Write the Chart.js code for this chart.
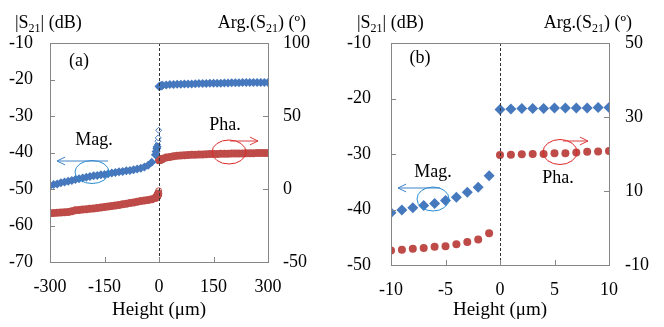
<!DOCTYPE html>
<html>
<head>
<meta charset="utf-8">
<script src="https://cdn.jsdelivr.net/npm/chart.js@4.4.1/dist/chart.umd.min.js"></script>
<style>
    body { margin: 0; background: #ffffff; }
    .wrap { display: flex; width: 664px; height: 327px; }
</style>
</head>
<body>
<div class="wrap">
    <canvas id="chart_a" width="330" height="327"></canvas>
    <canvas id="chart_b" width="334" height="327"></canvas>
</div>
<script>
// panel (a) : -300 .. 300 um
const heightMagA = [-300, -290, -280, -270, -260, -250, -240, -230, -220, -210, -200, -190, -180, -170, -160,
    -150, -140, -130, -120, -110, -100, -90, -80, -70, -60, -50, -40, -30, -20, -10, -8, -6, -5,
    0, 2, 4, 6, 8, 10, 20, 30, 40, 50, 60, 70, 80, 90, 100, 110, 120, 130, 140, 150, 160, 170, 180, 190,
    200, 210, 220, 230, 240, 250, 260, 270, 280, 290, 300];
const magA = [-49.1, -48.8, -48.6, -48.3, -48.1, -47.9, -47.7, -47.4, -47.2, -47.0, -46.8, -46.6, -46.4, -46.3, -46.1,
    -46.0, -45.8, -45.6, -45.5, -45.3, -45.2, -45.0, -44.9, -44.7, -44.5, -44.3, -44.0, -43.5, -42.7, -40.6, -39.7, -38.9, -38.4,
    -21.9, -21.8, -21.8, -21.7, -21.7, -21.6, -21.5, -21.4, -21.35, -21.3, -21.3, -21.25, -21.2, -21.2, -21.15, -21.1, -21.1, -21.1, -21.05, -21.0, -21.0, -21.0, -20.95, -20.95,
    -20.9, -20.9, -20.9, -20.85, -20.85, -20.85, -20.8, -20.8, -20.8, -20.8, -20.8];
const heightMagOpenA = [-4, -3, -2, -1];
const magOpenA = [-37.8, -36.9, -36.0, -33.9];

const heightPhaA = [-300, -290, -280, -270, -260, -250, -240, -230, -220, -210, -200, -190, -180, -170, -160,
    -150, -140, -130, -120, -110, -100, -90, -80, -70, -60, -50, -40, -30, -20, -10, -8, -6, -5, -4, -3, -2,
    0, 2, 4, 6, 8, 10, 20, 30, 40, 50, 60, 70, 80, 90, 100, 110, 120, 130, 140, 150, 160, 170, 180, 190,
    200, 210, 220, 230, 240, 250, 260, 270, 280, 290, 300];
const phaA = [-16.6, -16.5, -16.3, -16.1, -15.9, -15.7, -15.2, -14.6, -14.3, -14.1, -13.8, -13.6, -13.3, -13.0, -12.7,
    -12.4, -12.0, -11.7, -11.3, -10.9, -10.5, -10.1, -9.6, -9.2, -8.7, -8.3, -7.9, -7.5, -7.0, -6.1, -5.6, -5.1, -4.9, -4.4, -3.8, -3.1,
    19.7, 19.9, 20.0, 20.2, 20.6, 20.8, 21.5, 22.0, 22.4, 22.7, 22.9, 23.1, 23.3, 23.4, 23.5, 23.6, 23.7, 23.8, 23.9, 23.95, 24.0, 24.1, 24.15, 24.2,
    24.3, 24.3, 24.4, 24.4, 24.5, 24.5, 24.5, 24.6, 24.6, 24.6, 24.7];
const heightPhaOpenA = [-1];
const phaOpenA = [-1.2];

// panel (b) : -10 .. 10 um
const heightB = [-10, -9, -8, -7, -6, -5, -4, -3, -2, -1, 0, 1, 2, 3, 4, 5, 6, 7, 8, 9, 10];
const magB = [-40.6, -40.1, -39.7, -39.3, -38.9, -38.4, -37.8, -36.9, -36.0, -33.9,
    -22.0, -21.9, -21.8, -21.8, -21.8, -21.7, -21.7, -21.7, -21.7, -21.6, -21.6];
const phaB = [-6.1, -5.9, -5.6, -5.4, -5.1, -4.9, -4.4, -3.8, -3.1, -1.4,
    19.7, 19.8, 19.9, 20.0, 20.0, 20.2, 20.2, 20.4, 20.6, 20.7, 20.8];

const BLUE = 'rgb(70,120,190)';
const RED = 'rgb(190,75,72)';
const FONT = '"Liberation Serif", "Times New Roman", serif';

function pts(xs, ys) {
    return xs.map((x, i) => ({x: x, y: ys[i]}));
}

// text with a subscript part: parts = [[text, size, dy], ...]
function drawSub(ctx, parts, x, y, alignRight) {
    let w = 0;
    parts.forEach(p => { ctx.font = p[1] + 'px ' + FONT; w += ctx.measureText(p[0]).width; });
    let cx = alignRight ? x - w : x;
    ctx.textAlign = 'left';
    ctx.textBaseline = 'alphabetic';
    parts.forEach(p => {
        ctx.font = p[1] + 'px ' + FONT;
        ctx.fillText(p[0], cx, y + p[2]);
        cx += ctx.measureText(p[0]).width;
    });
}

function drawArrow(ctx, x1, y1, x2, y2, color) {
    const ang = Math.atan2(y2 - y1, x2 - x1);
    ctx.strokeStyle = color;
    ctx.lineWidth = 1;
    ctx.beginPath();
    ctx.moveTo(x1, y1);
    ctx.lineTo(x2, y2);
    ctx.moveTo(x2 - 9 * Math.cos(ang - 0.45), y2 - 9 * Math.sin(ang - 0.45));
    ctx.lineTo(x2, y2);
    ctx.lineTo(x2 - 9 * Math.cos(ang + 0.45), y2 - 9 * Math.sin(ang + 0.45));
    ctx.stroke();
}

// frame, inward ticks, dashed line at 0 and the notes
const framePlugin = {
    id: 'frame',
    afterDatasetsDraw(chart, args, opts) {
        const ctx = chart.ctx;
        const a = chart.chartArea;
        const sc = chart.scales;
        ctx.save();

        const x0 = Math.round(sc.x.getPixelForValue(0)) + 0.5;
        ctx.strokeStyle = '#333333';
        ctx.lineWidth = 1;
        ctx.setLineDash([3, 2]);
        ctx.beginPath();
        ctx.moveTo(x0, a.top);
        ctx.lineTo(x0, a.bottom);
        ctx.stroke();
        ctx.setLineDash([]);

        ctx.strokeStyle = '#868686';
        ctx.strokeRect(Math.round(a.left) + 0.5, Math.round(a.top) + 0.5,
            Math.round(a.width), Math.round(a.height));
        ctx.beginPath();
        sc.x.ticks.forEach(t => {
            const px = Math.round(sc.x.getPixelForValue(t.value)) + 0.5;
            ctx.moveTo(px, a.bottom);
            ctx.lineTo(px, a.bottom - 5);
        });
        sc.y.ticks.forEach(t => {
            const py = Math.round(sc.y.getPixelForValue(t.value)) + 0.5;
            ctx.moveTo(a.left, py);
            ctx.lineTo(a.left + 5, py);
        });
        sc.y1.ticks.forEach(t => {
            const py = Math.round(sc.y1.getPixelForValue(t.value)) + 0.5;
            ctx.moveTo(a.right, py);
            ctx.lineTo(a.right - 5, py);
        });
        ctx.stroke();

        const n = opts.notes;
        ctx.fillStyle = '#000000';
        drawSub(ctx, [['|S', 18, 0], ['21', 12, 4], ['| (dB)', 18, 0]], n.leftTitle[0], n.leftTitle[1], false);
        drawSub(ctx, [['Arg.(S', 18, 0], ['21', 12, 4], [') (º)', 18, 0]], n.rightTitle[0], n.rightTitle[1], true);

        ctx.font = '18px ' + FONT;
        ctx.textAlign = 'center';
        ctx.textBaseline = 'middle';
        ctx.fillText(n.panel[0], n.panel[1], n.panel[2]);
        ctx.fillText('Mag.', n.mag[0], n.mag[1]);
        ctx.fillText('Pha.', n.pha[0], n.pha[1]);

        ctx.lineWidth = 1;
        ctx.strokeStyle = 'rgb(40,140,210)';
        ctx.beginPath();
        ctx.ellipse(n.blueEll[0], n.blueEll[1], n.blueEll[2], n.blueEll[3], 0, 0, Math.PI * 2);
        ctx.stroke();
        drawArrow(ctx, n.blueArr[0], n.blueArr[2], n.blueArr[1], n.blueArr[2], 'rgb(60,130,200)');

        ctx.strokeStyle = 'rgb(220,40,40)';
        ctx.beginPath();
        ctx.ellipse(n.redEll[0], n.redEll[1], n.redEll[2], n.redEll[3], 0, 0, Math.PI * 2);
        ctx.stroke();
        drawArrow(ctx, n.redArr[0], n.redArr[2], n.redArr[1], n.redArr[2], 'rgb(220,60,60)');

        ctx.restore();
    }
};

let chart_a = document.getElementById('chart_a').getContext('2d');
new Chart(chart_a, {
    type: 'scatter',
    // The data for our dataset
    data: {
        datasets: [
            {
                data: pts(heightMagA, magA),
                yAxisID: 'y',
                pointStyle: 'rectRot',
                pointRadius: 4.5,
                pointBorderWidth: 0,
                backgroundColor: BLUE,
                borderColor: BLUE,
            },
            {
                data: pts(heightMagOpenA, magOpenA),
                yAxisID: 'y',
                pointStyle: 'rectRot',
                pointRadius: 3,
                pointBorderWidth: 1,
                backgroundColor: '#ffffff',
                borderColor: BLUE,
            },
            {
                data: pts(heightPhaA, phaA),
                yAxisID: 'y1',
                pointStyle: 'circle',
                pointRadius: 4,
                pointBorderWidth: 0,
                backgroundColor: RED,
                borderColor: RED,
            },
            {
                data: pts(heightPhaOpenA, phaOpenA),
                yAxisID: 'y1',
                pointStyle: 'circle',
                pointRadius: 3,
                pointBorderWidth: 1,
                backgroundColor: '#ffffff',
                borderColor: RED,
            }
        ],
    },
    options: {
        responsive: false,
        animation: false,
        layout: {padding: {top: 43, left: 0, right: 0, bottom: 0}},
        plugins: {
            legend: {display: false},
            tooltip: {enabled: false},
            frame: {
                notes: {
                    leftTitle: [15, 28], rightTitle: [306, 28],
                    panel: ['(a)', 79, 61],
                    mag: [94, 140], pha: [225, 125],
                    blueEll: [92, 172, 17, 11.5], blueArr: [108, 57, 161],
                    redEll: [229, 152, 17, 12], redArr: [230, 258, 141],
                }
            }
        },
        scales: {
            x: {
                type: 'linear', min: -300, max: 300,
                grid: {display: false, drawTicks: false},
                border: {display: false},
                ticks: {stepSize: 150, padding: 14, color: '#000', font: {family: FONT, size: 18}},
                title: {display: true, text: 'Height (μm)', color: '#000', padding: {top: 0, bottom: 6}, font: {family: FONT, size: 19}},
                afterFit: s => { s.height = 65; }
            },
            y: {
                position: 'left', min: -70, max: -10,
                grid: {display: false, drawTicks: false},
                border: {display: false},
                ticks: {stepSize: 10, padding: 17, color: '#000', font: {family: FONT, size: 18}},
                afterFit: s => { s.width = 50; }
            },
            y1: {
                position: 'right', min: -50, max: 100,
                grid: {display: false, drawTicks: false},
                border: {display: false},
                ticks: {stepSize: 50, padding: 15, color: '#000', font: {family: FONT, size: 18}},
                afterFit: s => { s.width = 62; }
            }
        }
    },
    plugins: [framePlugin]
});

let chart_b = document.getElementById('chart_b').getContext('2d');
new Chart(chart_b, {
    type: 'scatter',
    // The data for our dataset
    data: {
        datasets: [
            {
                data: pts(heightB, magB),
                yAxisID: 'y',
                pointStyle: 'rectRot',
                pointRadius: 5.5,
                pointBorderWidth: 0,
                backgroundColor: BLUE,
                borderColor: BLUE,
            },
            {
                data: pts(heightB, phaB),
                yAxisID: 'y1',
                pointStyle: 'circle',
                pointRadius: 4,
                pointBorderWidth: 0,
                backgroundColor: RED,
                borderColor: RED,
            }
        ],
    },
    options: {
        responsive: false,
        animation: false,
        layout: {padding: {top: 43, left: 0, right: 0, bottom: 0}},
        plugins: {
            legend: {display: false},
            tooltip: {enabled: false},
            frame: {
                notes: {
                    leftTitle: [27, 28], rightTitle: [302, 28],
                    panel: ['(b)', 90, 58],
                    mag: [103, 172], pha: [228, 178],
                    blueEll: [103, 199, 16, 12], blueArr: [110, 68, 188],
                    redEll: [230, 152, 17, 12.5], redArr: [233, 258, 141],
                }
            }
        },
        scales: {
            x: {
                type: 'linear', min: -10, max: 10,
                grid: {display: false, drawTicks: false},
                border: {display: false},
                ticks: {stepSize: 5, padding: 14, color: '#000', font: {family: FONT, size: 18}},
                title: {display: true, text: 'Height (μm)', color: '#000', padding: {top: 0, bottom: 6}, font: {family: FONT, size: 19}},
                afterFit: s => { s.height = 62; }
            },
            y: {
                position: 'left', min: -50, max: -10,
                grid: {display: false, drawTicks: false},
                border: {display: false},
                ticks: {stepSize: 10, padding: 20, color: '#000', font: {family: FONT, size: 18}},
                afterFit: s => { s.width = 61; }
            },
            y1: {
                position: 'right', min: -10, max: 50,
                grid: {display: false, drawTicks: false},
                border: {display: false},
                ticks: {stepSize: 20, padding: 16, color: '#000', font: {family: FONT, size: 18}},
                afterFit: s => { s.width = 55; }
            }
        }
    },
    plugins: [framePlugin]
});
</script>
</body>
</html>
